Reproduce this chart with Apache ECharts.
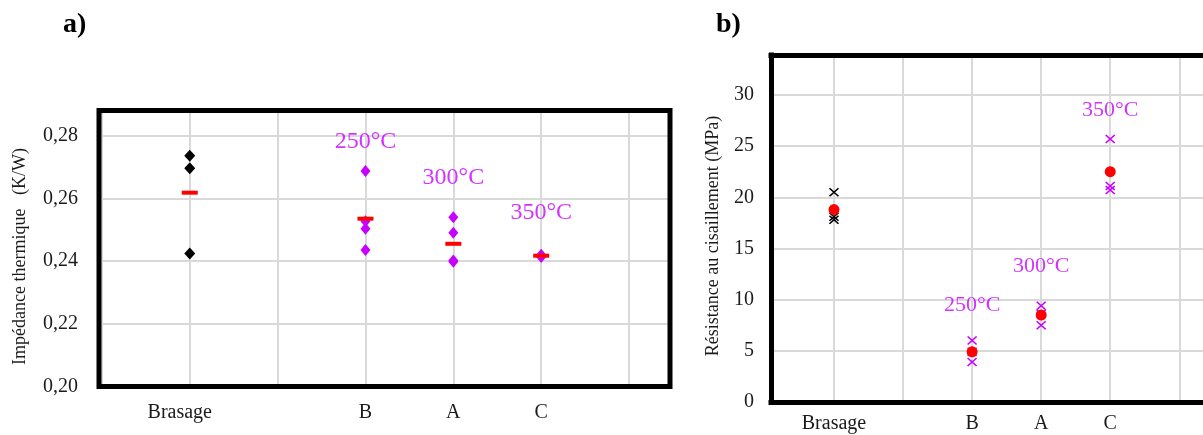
<!DOCTYPE html>
<html>
<head>
<meta charset="utf-8">
<script src="https://cdn.jsdelivr.net/npm/echarts@6/dist/echarts.min.js"></script>
<style>
html,body{margin:0;padding:0;background:#fff;}
#chart{width:1203px;height:435px;}
</style>
</head>
<body>
<div id="chart"></div>
<script>
// ---- data ----
const categories = ['Brasage', 'B', 'A', 'C'];
const categorySlots = [1, 3, 4, 5];
const temperatures = ['250°C', '300°C', '350°C'];

// a) Impédance thermique (K/W)
const impedanceBrasage = [0.2736, 0.2696, 0.2424];
const impedanceB = [0.2687, 0.2527, 0.2503, 0.2435];
const impedanceA = [0.2540, 0.2490, 0.2402, 0.2398];
const impedanceC = [0.2420, 0.2416, 0.2413];
const impedanceMeans = [0.2618, 0.2535, 0.2455, 0.2417];
const impedanceLabelY = [0.2782, 0.2666, 0.2554];

// b) Résistance au cisaillement (MPa)
const shearBrasage = [20.5, 18.1, 17.8];
const shearB = [6.0, 4.9, 3.9];
const shearA = [9.4, 8.6, 7.5];
const shearC = [25.7, 21.1, 20.7];
const shearMeans = [18.8, 4.9, 8.5, 22.5];
const shearLabelY = [9.41, 13.22, 28.53];

// ---- helpers ----
const pairs = (slot, vals) => vals.map(v => [slot, v]);
const labelFor = {};
categories.forEach((c, i) => { labelFor[categorySlots[i]] = c; });

const SERIF = '"Liberation Serif", "Times New Roman", serif';
const MAGENTA = '#C800FF';
const RED = '#FF0000';
const GRIDC = '#d9d9d9';
const XPATH = 'path://M0,0L10,10M10,0L0,10';
const FRAME = { show: true, lineStyle: { color: '#000', width: 5, cap: 'square' } };

const impTempData = temperatures.map((t, i) => ({ value: [categorySlots[i + 1], impedanceLabelY[i]], name: t }));
const shearTempData = temperatures.map((t, i) => ({ value: [categorySlots[i + 1], shearLabelY[i]], name: t }));

const chart = echarts.init(document.getElementById('chart'), null, { renderer: 'canvas' });

const splitLineDef = { show: true, showMinLine: false, showMaxLine: false, lineStyle: { color: GRIDC, width: 2 } };

function xAxisDef(idx, min, max, margin, shiftBrasage, showLine) {
  return {
    type: 'value', gridIndex: idx, min: min, max: max,
    splitNumber: 6, minInterval: 1, maxInterval: 1,
    axisLine: showLine ? FRAME : { show: false }, axisTick: { show: false },
    splitLine: splitLineDef,
    axisLabel: {
      margin: margin, fontFamily: SERIF, fontSize: 20, color: '#1a1a1a',
      showMinLabel: false, showMaxLabel: false,
      formatter: v => {
        const r = Math.round(v);
        if (Math.abs(v - r) > 1e-6 || !labelFor[r]) return '';
        if (r === 1 && shiftBrasage) return '{br|' + labelFor[r] + '}';
        return labelFor[r];
      },
      rich: { br: { fontFamily: SERIF, fontSize: 20, color: '#1a1a1a', padding: [0, 20, 0, 0] } }
    }
  };
}

const option = {
  backgroundColor: '#ffffff',
  animation: false,
  title: [
    { text: 'a)', left: 58, top: 6, textStyle: { fontFamily: SERIF, fontSize: 28, fontWeight: 'bold', color: '#000' } },
    { text: 'b)', left: 711, top: 6, textStyle: { fontFamily: SERIF, fontSize: 28, fontWeight: 'bold', color: '#000' } }
  ],
  grid: [
    { left: 99, top: 110.5, width: 571, height: 276, show: true, z: 20, borderColor: '#000', borderWidth: 5, backgroundColor: 'transparent', containLabel: false },
    { left: 771, top: 55, right: 0, height: 347, show: false, containLabel: false }
  ],
  xAxis: [
    xAxisDef(0, -0.033, 6.466, 16, true, false),
    xAxisDef(1, 0.088, 6.343, 12, false, true),
    { type: 'value', gridIndex: 1, position: 'top', min: 0.088, max: 6.343,
      axisLine: FRAME, axisTick: { show: false }, axisLabel: { show: false }, splitLine: { show: false } }
  ],
  yAxis: [
    {
      type: 'value', gridIndex: 0, min: 0.2, max: 0.288, interval: 0.02,
      axisLine: { show: false }, axisTick: { show: false },
      splitLine: splitLineDef,
      axisLabel: {
        margin: 21, fontFamily: SERIF, fontSize: 20, color: '#1a1a1a', showMaxLabel: false,
        formatter: v => v.toFixed(2).replace('.', ',')
      },
      name: 'Impédance thermique   (K/W)', nameLocation: 'middle', nameGap: 70,
      nameTextStyle: { fontFamily: SERIF, fontSize: 18, color: '#1a1a1a', padding: [0, 16, 0, 0] }
    },
    {
      type: 'value', gridIndex: 1, min: 0, max: 33.9, interval: 5,
      axisLine: FRAME, axisTick: { show: false },
      splitLine: splitLineDef,
      axisLabel: {
        margin: 17, fontFamily: SERIF, fontSize: 20, color: '#1a1a1a', showMaxLabel: false
      },
      name: 'Résistance au cisaillement (MPa)', nameLocation: 'middle', nameGap: 49,
      nameTextStyle: { fontFamily: SERIF, fontSize: 18, color: '#1a1a1a', padding: [0, 15, 0, 0] }
    }
  ],
  series: [
    // ---- a) ----
    { type: 'scatter', xAxisIndex: 0, yAxisIndex: 0, symbol: 'diamond', symbolSize: [11, 12],
      itemStyle: { color: '#000', opacity: 1 }, data: pairs(categorySlots[0], impedanceBrasage), z: 3 },
    { type: 'scatter', xAxisIndex: 0, yAxisIndex: 0, symbol: 'diamond', symbolSize: [10, 12],
      itemStyle: { color: MAGENTA, opacity: 1 },
      data: [].concat(pairs(categorySlots[1], impedanceB), pairs(categorySlots[2], impedanceA), pairs(categorySlots[3], impedanceC)), z: 3 },
    { type: 'scatter', xAxisIndex: 0, yAxisIndex: 0, symbol: 'rect', symbolSize: [16, 4],
      itemStyle: { color: RED, opacity: 1 },
      data: impedanceMeans.map((m, i) => [categorySlots[i], m]), z: 4 },
    { type: 'scatter', xAxisIndex: 0, yAxisIndex: 0, symbolSize: 0, silent: true,
      label: { show: true, position: 'inside', formatter: p => p.name, fontFamily: SERIF, fontSize: 24, color: MAGENTA },
      data: impTempData, z: 5 },
    // ---- b) ----
    { type: 'scatter', xAxisIndex: 1, yAxisIndex: 1, symbol: XPATH, symbolSize: [9, 8],
      itemStyle: { color: 'transparent', borderColor: '#000', borderWidth: 1.5, opacity: 1 },
      data: pairs(categorySlots[0], shearBrasage), z: 3 },
    { type: 'scatter', xAxisIndex: 1, yAxisIndex: 1, symbol: XPATH, symbolSize: [9, 8],
      itemStyle: { color: 'transparent', borderColor: MAGENTA, borderWidth: 1.5, opacity: 1 },
      data: [].concat(pairs(categorySlots[1], shearB), pairs(categorySlots[2], shearA), pairs(categorySlots[3], shearC)), z: 3 },
    { type: 'scatter', xAxisIndex: 1, yAxisIndex: 1, symbol: 'circle', symbolSize: 11,
      itemStyle: { color: RED, opacity: 1 },
      data: shearMeans.map((m, i) => [categorySlots[i], m]), z: 4 },
    { type: 'scatter', xAxisIndex: 1, yAxisIndex: 1, symbolSize: 0, silent: true,
      label: { show: true, position: 'inside', formatter: p => p.name, fontFamily: SERIF, fontSize: 22, color: MAGENTA },
      data: shearTempData, z: 5 }
  ]
};
chart.setOption(option);
</script>
</body>
</html>
